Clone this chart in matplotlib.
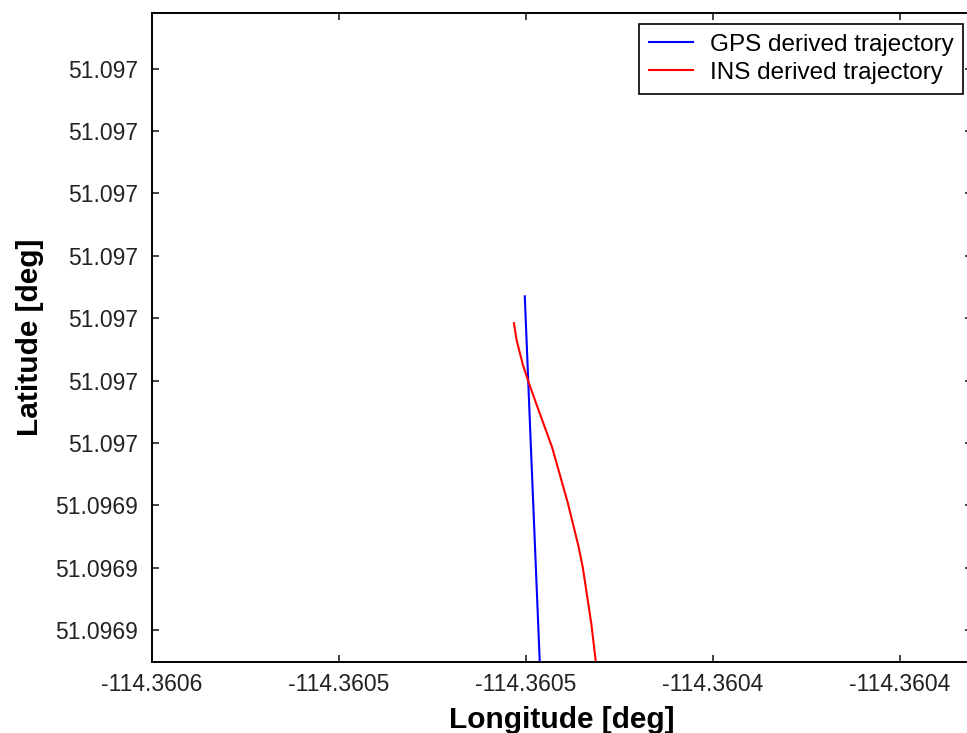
import numpy as np
import matplotlib
matplotlib.use("Agg")
import matplotlib.pyplot as plt

# trajectories (deg)
gps_lon = [-114.3605003, -114.3604987, -114.3604963]
gps_lat = [51.0969735, 51.0969498, 51.0969149]

ins_lon = [-114.3605032, -114.3605025, -114.3605008, -114.3604992, -114.3604976,
           -114.3604930, -114.3604888, -114.3604860, -114.3604848,
           -114.3604825, -114.3604813]
ins_lat = [51.0969692, 51.0969665, 51.0969625, 51.0969596, 51.0969569,
           51.0969493, 51.0969404, 51.0969336, 51.0969301,
           51.0969210, 51.0969149]

xticks = [-114.36060, -114.36055, -114.36050, -114.36045, -114.36040]
xtick_labels = ['-114.3606', '-114.3605', '-114.3605', '-114.3604', '-114.3604']
yticks = [51.09692, 51.09693, 51.09694, 51.09695, 51.09696,
          51.09697, 51.09698, 51.09699, 51.09700, 51.09701]
ytick_labels = ['51.0969'] * 3 + ['51.097'] * 7

plt.rcParams['font.family'] = ['Liberation Sans', 'DejaVu Sans']

fig = plt.figure(figsize=(9.67, 7.33), dpi=100)
ax = fig.add_axes([152 / 967, 71 / 733, 820 / 967, 649 / 733])

ax.plot(gps_lon, gps_lat, color='#0000ff', lw=1.5, label='GPS derived trajectory')
ax.plot(ins_lon, ins_lat, color='#ff0000', lw=1.5, label='INS derived trajectory')

ax.set_xlim(-114.36060, -114.3603807)
ax.set_ylim(51.0969149, 51.0970189)
ax.set_xticks(xticks)
ax.set_xticklabels(xtick_labels)
ax.set_yticks(yticks)
ax.set_yticklabels(ytick_labels)

ax.tick_params(direction='in', length=5, width=1.2, top=True, right=True,
               labelsize=16.5, colors='#222222')
ax.tick_params(axis='y', pad=10)
ax.tick_params(axis='x', pad=8)
for s in ax.spines.values():
    s.set_linewidth(1.4)

ax.set_xlabel('Longitude [deg]', fontsize=21.5, fontweight='bold', labelpad=7)
ax.set_ylabel('Latitude [deg]', fontsize=21.5, fontweight='bold', labelpad=8)

leg = ax.legend(loc='upper right', bbox_to_anchor=(963 / 967, 1 - 24 / 733),
                bbox_transform=fig.transFigure, borderaxespad=0, fontsize=17.5,
                fancybox=False, edgecolor='black', framealpha=1,
                handlelength=1.8, handletextpad=0.7, labelspacing=0.25,
                borderpad=0.4)
leg.get_frame().set_linewidth(1.2)

fig.savefig('out.png', dpi=100)
